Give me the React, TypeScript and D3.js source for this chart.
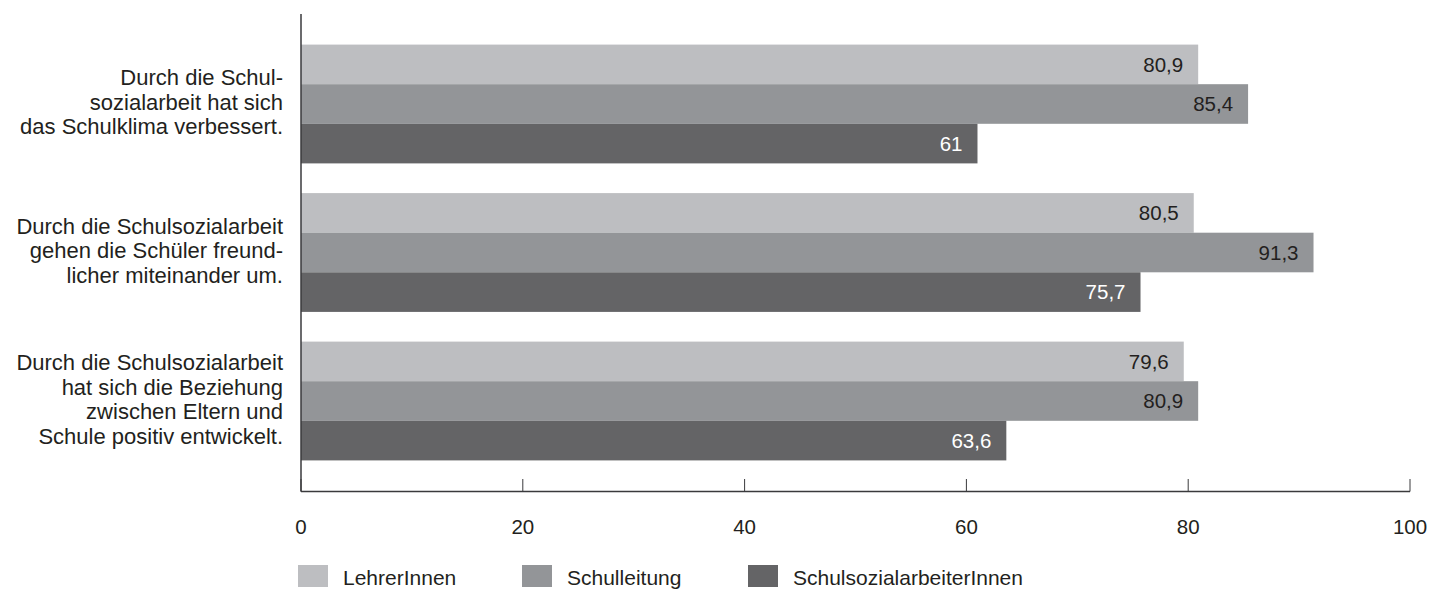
import React from "react";
import * as d3 from "d3";

const categories: string[][] = [
  ["Durch die Schul-", "sozialarbeit hat sich", "das Schulklima verbessert."],
  ["Durch die Schulsozialarbeit", "gehen die Schüler freund-", "licher miteinander um."],
  ["Durch die Schulsozialarbeit", "hat sich die Beziehung", "zwischen Eltern und", "Schule positiv entwickelt."],
];
const seriesNames = ["LehrerInnen", "Schulleitung", "SchulsozialarbeiterInnen"];
const lehrer = [80.9, 80.5, 79.6];
const schulleitung = [85.4, 91.3, 80.9];
const sozialarbeiter = [61, 75.7, 63.6];
const xTicks = [0, 20, 40, 60, 80, 100];

const colors = ["#bdbec1", "#939598", "#646466"];
const labelColors = ["#231f20", "#231f20", "#ffffff"];
const FONT = "'Liberation Sans', Arial, Helvetica, sans-serif";

export default function App() {
  const W = 1430, H = 590;
  const x = d3.scaleLinear().domain([0, 100]).range([301, 1410]);
  const y = d3.scaleBand<number>().domain([0, 1, 2]).range([14, 491]).paddingInner(0.2).paddingOuter(0.206);
  const sub = d3.scaleBand<number>().domain([0, 1, 2]).range([0, y.bandwidth()]);
  const series = [lehrer, schulleitung, sozialarbeiter];
  const fmt = (v: number) => String(v).replace(".", ",");
  const legendX = [298, 522, 748];
  const lineH = 24.5;

  return (
    <>
      <style>{"body{margin:0}"}</style>
      <svg width={W} height={H} style={{ display: "block", fontFamily: FONT }}>
        <rect width={W} height={H} fill="#ffffff" />
        {categories.map((lines, ci) => (
          <g key={ci}>
            {series.map((vals, si) => (
              <g key={si}>
                <rect
                  x={x(0)}
                  y={(y(ci) as number) + (sub(si) as number)}
                  width={x(vals[ci]) - x(0)}
                  height={sub.bandwidth()}
                  fill={colors[si]}
                />
                <text
                  x={x(vals[ci]) - 15}
                  y={(y(ci) as number) + (sub(si) as number) + sub.bandwidth() / 2}
                  dy="0.36em"
                  textAnchor="end"
                  fontSize={20.5}
                  fill={labelColors[si]}
                >
                  {fmt(vals[ci])}
                </text>
              </g>
            ))}
            {lines.map((ln, li) => (
              <text
                key={li}
                x={283}
                y={(y(ci) as number) + y.bandwidth() / 2 + (li - (lines.length - 1) / 2) * lineH - 2}
                dy="0.36em"
                textAnchor="end"
                fontSize={22}
                fill="#231f20"
              >
                {ln}
              </text>
            ))}
          </g>
        ))}
        <line x1={x(0)} x2={x(0)} y1={14} y2={491.5} stroke="#3a3a3c" strokeWidth={1.5} />
        <line x1={x(0)} x2={x(100)} y1={491.5} y2={491.5} stroke="#3a3a3c" strokeWidth={1.5} />
        {xTicks.map((t) => (
          <g key={t}>
            <line x1={x(t)} x2={x(t)} y1={479} y2={491.5} stroke="#3a3a3c" strokeWidth={1} />
            <text x={x(t)} y={527} dy="0.36em" textAnchor="middle" fontSize={20.5} fill="#231f20">
              {t}
            </text>
          </g>
        ))}
        {seriesNames.map((n, i) => (
          <g key={n}>
            <rect x={legendX[i]} y={565} width={30} height={22} fill={colors[i]} />
            <text x={legendX[i] + 45} y={577} dy="0.36em" fontSize={21} fill="#231f20">
              {n}
            </text>
          </g>
        ))}
      </svg>
    </>
  );
}
